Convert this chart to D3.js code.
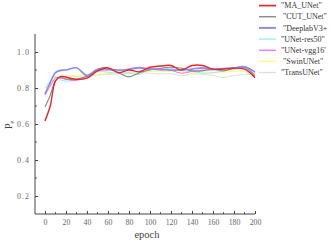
<!DOCTYPE html>
<html>
<head>
<meta charset="utf-8">
<script src="https://cdn.jsdelivr.net/npm/d3@7"></script>
<style>
  body { margin: 0; background: #fff; }
  text { font-family: "Liberation Serif", "DejaVu Serif", serif; }
</style>
</head>
<body>
<div id="chart"></div>
<script>
// Epochs sampled along the x axis
const epochs = [0, 5, 10, 15, 20, 30, 40, 50, 60, 70, 80, 90, 100, 110, 120, 130, 140, 150, 160, 170, 180, 190, 200];

const maUNet    = [0.617, 0.70, 0.84, 0.865, 0.86, 0.848, 0.855, 0.895, 0.912, 0.885, 0.90, 0.89, 0.915, 0.922, 0.925, 0.90, 0.925, 0.925, 0.905, 0.905, 0.91, 0.905, 0.857];
const cutUNet   = [0.694, 0.76, 0.84, 0.86, 0.85, 0.85, 0.865, 0.905, 0.912, 0.885, 0.862, 0.885, 0.90, 0.91, 0.915, 0.91, 0.895, 0.895, 0.905, 0.895, 0.91, 0.915, 0.865];
const deeplab   = [0.765, 0.83, 0.885, 0.898, 0.90, 0.912, 0.87, 0.902, 0.905, 0.90, 0.903, 0.912, 0.905, 0.905, 0.90, 0.90, 0.905, 0.912, 0.905, 0.908, 0.912, 0.918, 0.888];
const unetRes50 = [0.80, 0.84, 0.865, 0.845, 0.838, 0.845, 0.865, 0.89, 0.888, 0.882, 0.885, 0.875, 0.905, 0.898, 0.91, 0.895, 0.893, 0.882, 0.885, 0.895, 0.902, 0.905, 0.867];
const unetVgg16 = [0.76, 0.81, 0.855, 0.855, 0.848, 0.842, 0.865, 0.894, 0.90, 0.895, 0.907, 0.915, 0.905, 0.90, 0.898, 0.882, 0.893, 0.90, 0.90, 0.903, 0.908, 0.912, 0.876];
const swinUNet  = [0.79, 0.83, 0.857, 0.862, 0.866, 0.87, 0.872, 0.877, 0.88, 0.885, 0.886, 0.89, 0.892, 0.89, 0.893, 0.887, 0.886, 0.889, 0.886, 0.888, 0.892, 0.893, 0.863];
const transUNet = [0.78, 0.82, 0.855, 0.86, 0.862, 0.865, 0.868, 0.872, 0.875, 0.878, 0.88, 0.885, 0.882, 0.878, 0.88, 0.868, 0.878, 0.875, 0.87, 0.858, 0.87, 0.875, 0.88];

const seriesNames = ['"MA_UNet"', ' "CUT_UNet"', ' "DeeplabV3+', '"UNet-res50"', '"UNet-vgg16\'', ' "SwinUNet"', '"TransUNet"'];
const seriesValues = [maUNet, cutUNet, deeplab, unetRes50, unetVgg16, swinUNet, transUNet];

const xTicks = [0, 20, 40, 60, 80, 100, 120, 140, 160, 180, 200];
const xMinorTicks = [10, 30, 50, 70, 90, 110, 130, 150, 170, 190];
const yTicks = [0.2, 0.4, 0.6, 0.8, 1.0];
const yMinorTicks = [0.3, 0.5, 0.7, 0.9];

const colors = ["#e8262c", "#8a8a8a", "#8c8ce6", "#8ff0f0", "#f070f0", "#ffff70", "#dedede"];
const widths = [1.4, 1.1, 1.6, 1.0, 1.0, 1.0, 1.0];

const W = 334, H = 241;
const svg = d3.select("#chart").append("svg")
    .attr("width", W)
    .attr("height", H);

const x = d3.scaleLinear().domain([-9.5, 200]).range([35, 255]);
const y = d3.scaleLinear().domain([0.1, 1.1]).range([214, 34]);

// Y axis
const yAxis = svg.append("g")
    .attr("transform", `translate(35,0)`)
    .call(d3.axisLeft(y).tickValues(yTicks).tickSize(-3).tickPadding(5)
        .tickFormat(d3.format(".1f")));
yAxis.selectAll("text").attr("font-size", 8).attr("fill", "#666").attr("letter-spacing", "1px");
yAxis.select(".domain").attr("stroke", "#444").attr("d", `M0,${y(1.1)}V${y(0.1)}`);
yAxis.selectAll(".tick line").attr("stroke", "#444");
yAxis.selectAll(".minor").data(yMinorTicks).enter().append("line")
    .attr("x1", 0).attr("x2", 1.8)
    .attr("y1", d => y(d)).attr("y2", d => y(d))
    .attr("stroke", "#444");

// X axis
const xAxis = svg.append("g")
    .attr("transform", `translate(0,214)`)
    .call(d3.axisBottom(x).tickValues(xTicks).tickSize(-3).tickPadding(5));
xAxis.selectAll("text").attr("font-size", 7.8).attr("fill", "#666");
xAxis.select(".domain").attr("stroke", "#444").attr("d", `M${x(-9.5)},0H${x(200)}`);
xAxis.selectAll(".tick line").attr("stroke", "#444");
xAxis.selectAll(".minor").data(xMinorTicks).enter().append("line")
    .attr("x1", d => x(d)).attr("x2", d => x(d))
    .attr("y1", 0).attr("y2", -1.8)
    .attr("stroke", "#444");

// Axis titles
svg.append("text")
    .attr("x", 147).attr("y", 237.5)
    .attr("text-anchor", "middle")
    .attr("font-size", 10.5)
    .attr("fill", "#444")
    .text("epoch");

const yTitle = svg.append("text")
    .attr("transform", "translate(12,125) rotate(-90)")
    .attr("text-anchor", "middle")
    .attr("font-size", 10)
    .attr("fill", "#444");
yTitle.append("tspan").text("P");
yTitle.append("tspan").attr("font-size", 6).attr("dy", 2).text("e");

// Lines
const line = d3.line()
    .x((d, i) => x(epochs[i]))
    .y(d => y(d))
    .curve(d3.curveCatmullRom.alpha(0.5));

const drawOrder = [6, 5, 3, 4, 1, 2, 0];
svg.append("g").selectAll("path")
    .data(drawOrder)
    .enter().append("path")
    .attr("d", i => line(seriesValues[i]))
    .attr("fill", "none")
    .attr("stroke", i => colors[i])
    .attr("stroke-width", i => widths[i]);

// Legend
const legend = svg.append("g").selectAll("g")
    .data(seriesNames)
    .enter().append("g")
    .attr("transform", (d, i) => `translate(259,${5.6 + i * 11.15})`);
legend.append("line")
    .attr("x1", 0).attr("x2", 17)
    .attr("stroke", (d, i) => colors[i])
    .attr("stroke-width", (d, i) => widths[i] + 0.3);
legend.append("text")
    .attr("x", 22).attr("y", 2.6)
    .attr("font-size", 8)
    .attr("fill", "#333")
    .attr("xml:space", "preserve")
    .text(d => d);
</script>
</body>
</html>
